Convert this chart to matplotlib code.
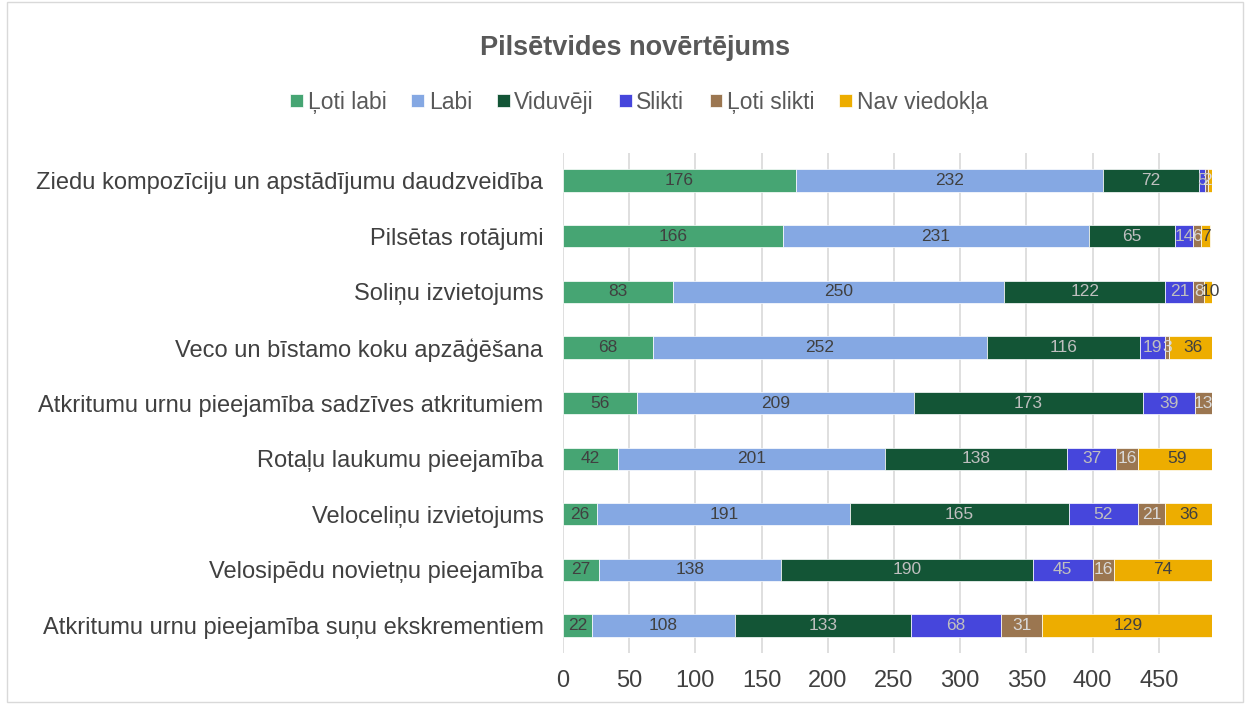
import numpy as np
import matplotlib.pyplot as plt

plt.rcParams['font.family'] = ['Liberation Sans', 'DejaVu Sans']

# data (top row first)
categories = ['Ziedu kompozīciju un apstādījumu daudzveidība',
              'Pilsētas rotājumi',
              'Soliņu izvietojums',
              'Veco un bīstamo koku apzāģēšana',
              'Atkritumu urnu pieejamība sadzīves atkritumiem',
              'Rotaļu laukumu pieejamība',
              'Veloceliņu izvietojums',
              'Velosipēdu novietņu pieejamība',
              'Atkritumu urnu pieejamība suņu ekskrementiem']
series_names = ['Ļoti labi', 'Labi', 'Viduvēji', 'Slikti', 'Ļoti slikti', 'Nav viedokļa']
loti_labi = [176, 166, 83, 68, 56, 42, 26, 27, 22]
labi = [232, 231, 250, 252, 209, 201, 191, 138, 108]
viduveji = [72, 65, 122, 116, 173, 138, 165, 190, 133]
slikti = [5, 14, 21, 19, 39, 37, 52, 45, 68]
loti_slikti = [2, 6, 8, 3, 13, 16, 21, 16, 31]
nav_viedokla = [3, 7, 10, 36, 2, 59, 36, 74, 129]

colors = ['#46A573', '#85A8E3', '#135536', '#4646DC', '#9B7650', '#EDAD00']
label_colors = ['#404040', '#404040', '#BFBFBF', '#BFBFBF', '#D9D9D9', '#404040']

series = [loti_labi, labi, viduveji, slikti, loti_slikti, nav_viedokla]

fig = plt.figure(figsize=(12.48, 7.04), dpi=100)
ax = fig.add_axes([0.451, 0.072, 0.52, 0.711])

y = np.arange(len(categories))
left = np.zeros(len(categories))
for name, vals, c, lc in zip(series_names, series, colors, label_colors):
    vals = np.array(vals)
    bars = ax.barh(y, vals, left=left, height=0.4, color=c, label=name,
                   edgecolor='white', linewidth=0.5)
    for b, v in zip(bars, vals):
        # tiny "no opinion" slivers carry no visible label in the original
        if name == 'Nav viedokļa' and v < 5:
            continue
        ax.text(b.get_x() + b.get_width() / 2, b.get_y() + b.get_height() / 2,
                str(v), ha='center', va='center', fontsize=12.5, color=lc)
    left += vals

ax.set_ylim(len(categories) - 0.5, -0.5)
ax.set_xlim(0, 490)
ax.set_yticks(y)
ax.set_yticklabels(categories, fontsize=17, color='#404040')
ax.set_xticks(np.arange(0, 451, 50))
ax.tick_params(axis='x', labelsize=17, labelcolor='#404040', length=0, pad=12)
ax.tick_params(axis='y', length=0, pad=14)
ax.grid(axis='x', color='#D9D9D9', linewidth=1.2)
ax.set_axisbelow(True)
for s in ax.spines.values():
    s.set_visible(False)

fig.text(0.509, 0.932, 'Pilsētvides novērtējums', ha='center', va='center',
         fontsize=19.5, fontweight='bold', color='#595959')
fig.legend(loc='center', bbox_to_anchor=(0.512, 0.855), ncol=6, frameon=False,
           fontsize=16.5, handlelength=0.55, handleheight=0.55, handletextpad=0.2,
           columnspacing=1.1, labelcolor='#595959')

fig.patches.append(plt.Rectangle((0.006, 0.003), 0.99, 0.994, transform=fig.transFigure,
                                 fill=False, edgecolor='#D9D9D9', linewidth=1))

fig.savefig('out.png', dpi=100)
